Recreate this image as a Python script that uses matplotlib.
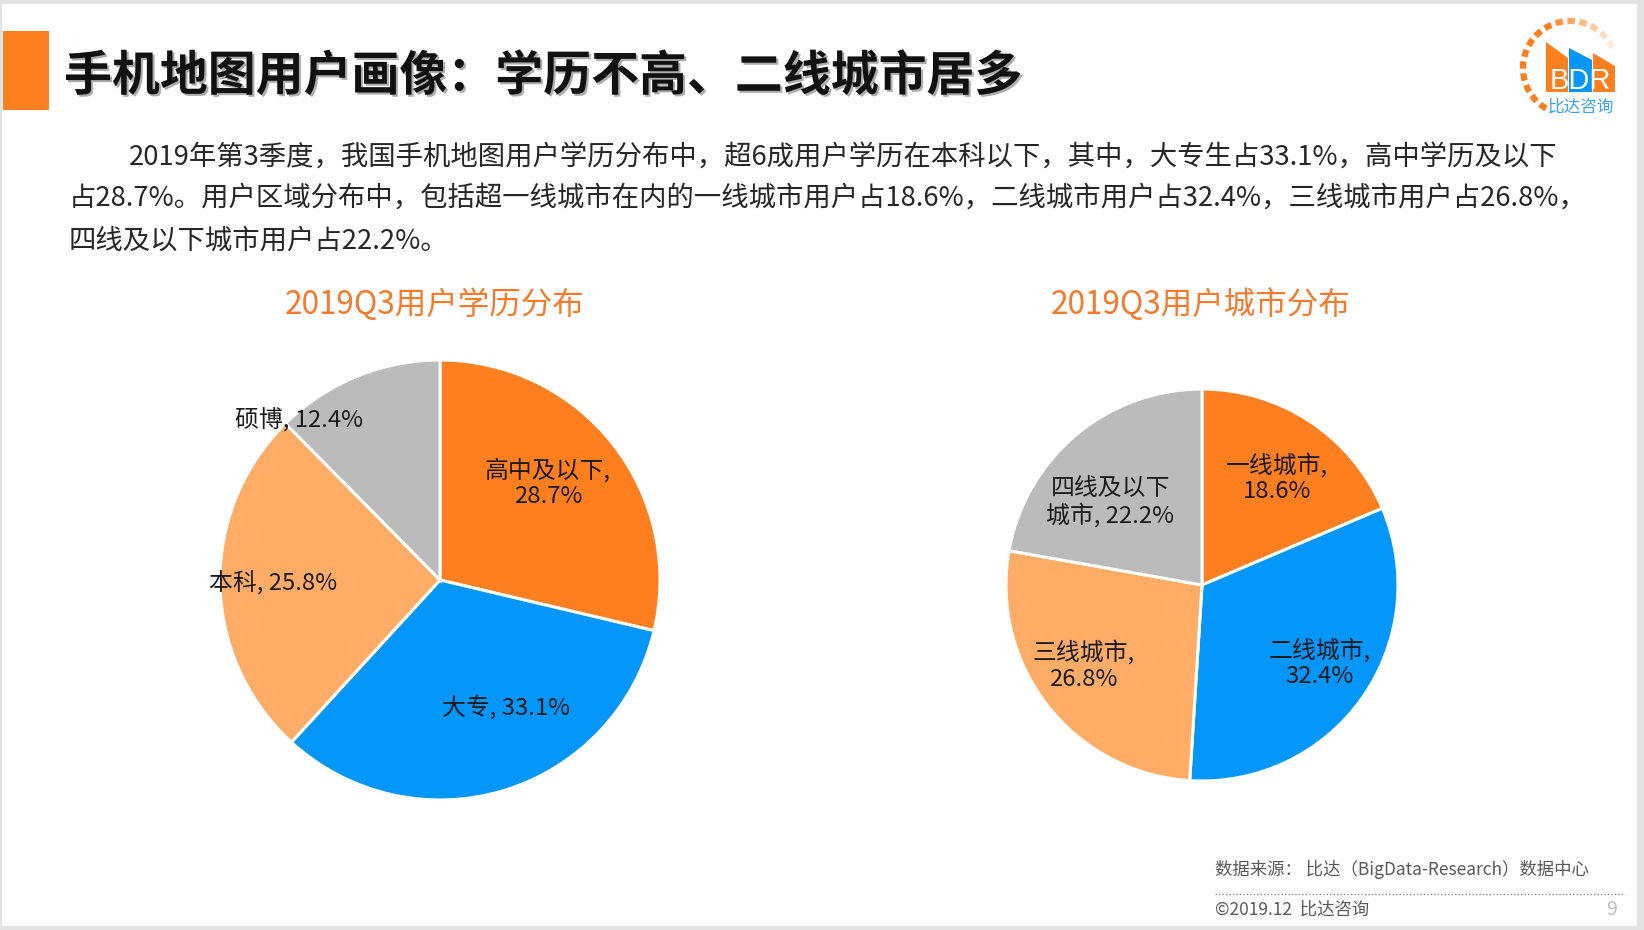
import numpy as np
import matplotlib
matplotlib.use('Agg')
import matplotlib.pyplot as plt
from matplotlib.patches import Rectangle, Polygon
import matplotlib.patheffects as pe

plt.rcParams['font.family'] = ['Noto Sans CJK SC', 'DejaVu Sans']

# ---------------- data ----------------
title_text = "手机地图用户画像：学历不高、二线城市居多"
para_lines = [
    "2019年第3季度，我国手机地图用户学历分布中，超6成用户学历在本科以下，其中，大专生占33.1%，高中学历及以下",
    "占28.7%。用户区域分布中，包括超一线城市在内的一线城市用户占18.6%，二线城市用户占32.4%，三线城市用户占26.8%，",
    "四线及以下城市用户占22.2%。",
]
edu_title = "2019Q3用户学历分布"
edu_labels = ["高中及以下", "大专", "本科", "硕博"]
edu_values = [28.7, 33.1, 25.8, 12.4]
city_title = "2019Q3用户城市分布"
city_labels = ["一线城市", "二线城市", "三线城市", "四线及以下\n城市"]
city_values = [18.6, 32.4, 26.8, 22.2]
source_text = "数据来源： 比达（BigData-Research）数据中心"
copyright_text = "©2019.12  比达咨询"
page_no = "9"
logo_text = "BDR"
logo_cn = "比达咨询"

# ---------------- styles ----------------
W, H = 1644, 930
COLORS = ["#FE7F1F", "#0596FA", "#FFAD66", "#BBBBBB"]
ORANGE_T = "#F47A2C"
edu_sep = [",\n", ", ", ", ", ", "]
city_sep = [",\n", ",\n", ",\n", ", "]
edu_lab_r = [0.66, 0.65, 0.76, 0.97]
edu_lab_da = [3.6, 10.5, 0.0, 19.0]
city_lab_r = [0.67, 0.72, 0.73, 0.63]
city_lab_da = [-1.6, 1.8, -4.0, 8.0]

fig = plt.figure(figsize=(W / 100, H / 100), dpi=100)
fig.patch.set_facecolor("#E3E3E3")

bg = fig.add_axes([0, 0, 1, 1])
bg.set_xlim(0, W)
bg.set_ylim(H, 0)
bg.axis("off")
bg.add_patch(Rectangle((2, 4), 1635, 922, facecolor="white", edgecolor="none"))

# title bar + title
bg.add_patch(Rectangle((3, 31), 46, 79, facecolor="#FE7F1F", edgecolor="none"))
bg.text(64, 76, title_text, fontsize=34.5, fontweight="bold", color="#111111",
        va="center", ha="left",
        path_effects=[pe.SimplePatchShadow(offset=(1.5, -1.5), shadow_rgbFace="#777777", alpha=0.6), pe.Normal()])

# paragraph
para_x = [129, 69, 69]
para_y = [157, 198, 241]
for s, x, y in zip(para_lines, para_x, para_y):
    bg.text(x, y, s, fontsize=19.7, color="#262626", va="center", ha="left")

# pie titles
bg.text(435, 305, edu_title, fontsize=22.7, color=ORANGE_T, ha="center", va="center")
bg.text(1201, 305, city_title, fontsize=22.7, color=ORANGE_T, ha="center", va="center")

# logo
cx, cy, r = 1570, 68, 47
angs = np.linspace(235, 30, 15)
for i, a in enumerate(angs):
    a1, a2 = np.deg2rad(a - 4.5), np.deg2rad(a + 4.5)
    t = np.linspace(a1, a2, 6)
    alpha = 1.0 if i < 9 else max(0.15, 1.0 - (i - 8) * 0.15)
    bg.plot(cx + r * np.cos(t), cy - r * np.sin(t), color="#FE7F1F", lw=4.5,
            alpha=alpha, solid_capstyle="butt")
bg.add_patch(Polygon([(1546, 92), (1546, 42), (1568, 58), (1568, 92)], closed=True,
                     facecolor="#FE7F1F", edgecolor="none"))
bg.add_patch(Polygon([(1569, 92), (1569, 48), (1592, 60), (1592, 92)], closed=True,
                     facecolor="#0596FA", edgecolor="none"))
bg.add_patch(Polygon([(1593, 92), (1593, 53), (1615, 66), (1615, 92)], closed=True,
                     facecolor="#FE7F1F", edgecolor="none"))
bg.text(1580, 81, logo_text, fontsize=21, color="white", ha="center", va="center",
        family=["Liberation Sans", "DejaVu Sans"])
bg.text(1581, 107, logo_cn, fontsize=12, color="#3AA0F0", ha="center", va="center")

# footer
bg.text(1215, 869, source_text, fontsize=12.5, color="#595959", ha="left", va="center")
bg.plot([1215, 1625], [894, 894], color="#888888", lw=1, ls=(0, (1, 1.5)))
bg.text(1215, 910, copyright_text, fontsize=12.5, color="#595959", ha="left", va="center")
bg.text(1617, 909, page_no, fontsize=14, color="#BFBFBF", ha="right", va="center")


def draw_pie(center, radius, values, labels, seps, lab_r, lab_da):
    cxp, cyp = center
    ax = fig.add_axes([(cxp - radius) / W, (H - cyp - radius) / H, 2 * radius / W, 2 * radius / H])
    wedges, _ = ax.pie(values, colors=COLORS, startangle=90, counterclock=False,
                       wedgeprops=dict(edgecolor="white", linewidth=2.2), radius=1)
    ax.set_xlim(-1.02, 1.02)
    ax.set_ylim(-1.02, 1.02)
    ax.axis("off")
    for w, v, lab, sp, rr, da in zip(wedges, values, labels, seps, lab_r, lab_da):
        mid = np.deg2rad((w.theta1 + w.theta2) / 2 + da)
        ax.text(rr * np.cos(mid), rr * np.sin(mid), f"{lab}{sp}{v:.1f}%",
                ha="center", va="center", fontsize=17.2, color="#1A1A1A",
                linespacing=1.15, multialignment="center")
    return ax


draw_pie((440, 580), 220 * 1.02, edu_values, edu_labels, edu_sep, edu_lab_r, edu_lab_da)
draw_pie((1202, 585), 196 * 1.02, city_values, city_labels, city_sep, city_lab_r, city_lab_da)

fig.savefig("out.png", dpi=100, facecolor=fig.get_facecolor())
